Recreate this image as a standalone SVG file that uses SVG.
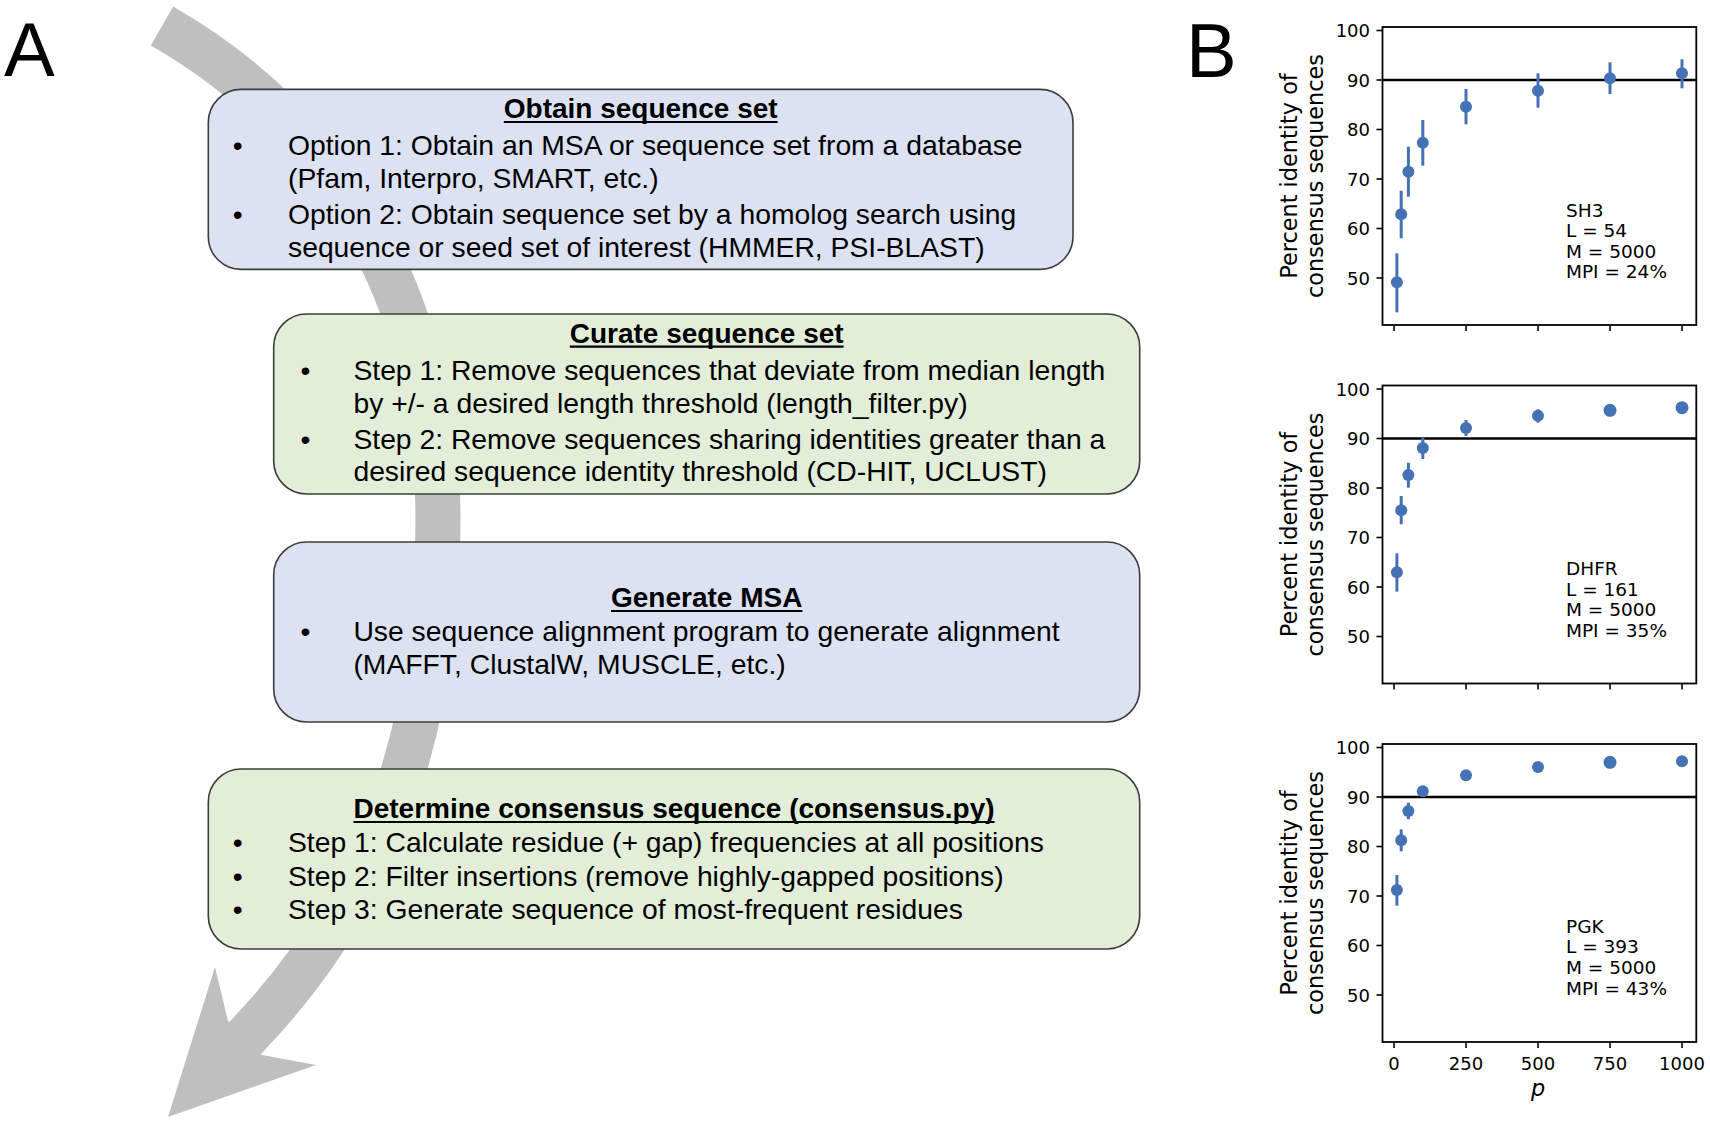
<svg xmlns="http://www.w3.org/2000/svg" width="1710" height="1123" viewBox="0 0 1710 1123">
<style>
.box{stroke:#3c3c3c;stroke-width:1.6}
.blue{fill:#dce2f2}
.green{fill:#e3eed9}
.t{font-family:"Liberation Sans",Arial,sans-serif;font-size:28.3px;fill:#000}
.tt{font-family:"Liberation Sans",Arial,sans-serif;font-size:28px;font-weight:bold;fill:#000;text-anchor:middle}
.bul{text-anchor:middle}
.ul{stroke:#000;stroke-width:2.2}
.pl{font-family:"Liberation Sans",Arial,sans-serif;font-size:76px;fill:#000}
.frame{fill:none;stroke:#000;stroke-width:1.8}
.h90{stroke:#000;stroke-width:2.6}
.tick{stroke:#000;stroke-width:1.6}
.tl{font-family:"DejaVu Sans",sans-serif;font-size:18px;fill:#000;text-anchor:end}
.xl{font-family:"DejaVu Sans",sans-serif;font-size:18px;fill:#000;text-anchor:middle}
.ann{font-family:"DejaVu Sans",sans-serif;font-size:18.5px;fill:#000}
.yl{font-family:"DejaVu Sans",sans-serif;font-size:22.4px;fill:#000;text-anchor:middle}
.err{stroke:#4472b4;stroke-width:3}
.dot{fill:#4472b4}
</style>

<g id="connectors">
  <path d="M162,26 C335.4,125.6 438,300 438,520 C438,720 384.6,894.8 242.9,1040.2" fill="none" stroke="#bfbfbf" stroke-width="45"/>
  <polygon points="215,967 168,1117 316,1065 262,1055 245,1038 228,1021" fill="#bfbfbf"/>
</g>

<text class="pl" x="4" y="76">A</text>
<text class="pl" x="1186" y="77">B</text>

<g id="node-obtain">
  <rect class="box blue" x="208.3" y="89.4" width="864.7" height="180" rx="33"/>
  <text class="tt" x="640.7" y="118">Obtain sequence set</text>
  <line class="ul" x1="503.8" y1="122" x2="777.6" y2="122"/>
  <text class="t bul" x="237.7" y="155">•</text>
  <text class="t" x="288" y="155">Option 1: Obtain an MSA or sequence set from a database</text>
  <text class="t" x="288" y="188">(Pfam, Interpro, SMART, etc.)</text>
  <text class="t bul" x="237.7" y="224">•</text>
  <text class="t" x="288" y="224">Option 2: Obtain sequence set by a homolog search using</text>
  <text class="t" x="288" y="256.6">sequence or seed set of interest (HMMER, PSI-BLAST)</text>
</g>

<g id="node-curate">
  <rect class="box green" x="273.7" y="314" width="866" height="180" rx="33"/>
  <text class="tt" x="706.7" y="342.6">Curate sequence set</text>
  <line class="ul" x1="569.8" y1="346.6" x2="843.6" y2="346.6"/>
  <text class="t bul" x="305.4" y="379.6">•</text>
  <text class="t" x="353.4" y="379.6">Step 1: Remove sequences that deviate from median length</text>
  <text class="t" x="353.4" y="412.6">by +/- a desired length threshold (length_filter.py)</text>
  <text class="t bul" x="305.4" y="448.6">•</text>
  <text class="t" x="353.4" y="448.6">Step 2: Remove sequences sharing identities greater than a</text>
  <text class="t" x="353.4" y="481.2">desired sequence identity threshold (CD-HIT, UCLUST)</text>
</g>

<g id="node-msa">
  <rect class="box blue" x="273.7" y="542" width="866" height="180" rx="33"/>
  <text class="tt" x="706.7" y="607">Generate MSA</text>
  <line class="ul" x1="611" y1="611" x2="802.4" y2="611"/>
  <text class="t bul" x="305.4" y="641">•</text>
  <text class="t" x="353.4" y="641">Use sequence alignment program to generate alignment</text>
  <text class="t" x="353.4" y="674">(MAFFT, ClustalW, MUSCLE, etc.)</text>
</g>

<g id="node-consensus">
  <rect class="box green" x="208.3" y="769" width="931.4" height="180" rx="33"/>
  <text class="tt" x="674" y="818">Determine consensus sequence (consensus.py)</text>
  <line class="ul" x1="353.5" y1="822" x2="994.5" y2="822"/>
  <text class="t bul" x="237.7" y="852">•</text>
  <text class="t" x="288" y="852">Step 1: Calculate residue (+ gap) frequencies at all positions</text>
  <text class="t bul" x="237.7" y="885.5">•</text>
  <text class="t" x="288" y="885.5">Step 2: Filter insertions (remove highly-gapped positions)</text>
  <text class="t bul" x="237.7" y="919">•</text>
  <text class="t" x="288" y="919">Step 3: Generate sequence of most-frequent residues</text>
</g>

<!-- Plot 1 -->
<g id="plot-sh3">
  <line class="h90" x1="1382.5" y1="80" x2="1696.3" y2="80"/>
  <g class="tick">
    <line x1="1376.5" y1="30.5" x2="1382.5" y2="30.5"/><line x1="1376.5" y1="80" x2="1382.5" y2="80"/>
    <line x1="1376.5" y1="129.5" x2="1382.5" y2="129.5"/><line x1="1376.5" y1="179" x2="1382.5" y2="179"/>
    <line x1="1376.5" y1="228.5" x2="1382.5" y2="228.5"/><line x1="1376.5" y1="278" x2="1382.5" y2="278"/>
    <line x1="1394" y1="325" x2="1394" y2="331"/><line x1="1466" y1="325" x2="1466" y2="331"/>
    <line x1="1538" y1="325" x2="1538" y2="331"/><line x1="1610" y1="325" x2="1610" y2="331"/>
    <line x1="1682" y1="325" x2="1682" y2="331"/>
  </g>
  <text class="tl" x="1370" y="37">100</text><text class="tl" x="1370" y="86.5">90</text>
  <text class="tl" x="1370" y="136">80</text><text class="tl" x="1370" y="185.5">70</text>
  <text class="tl" x="1370" y="235">60</text><text class="tl" x="1370" y="284.5">50</text>
  <text class="yl" transform="translate(1297,176) rotate(-90)">Percent identity of</text>
  <text class="yl" transform="translate(1322.5,176) rotate(-90)">consensus sequences</text>
  <g class="err">
    <line x1="1396.9" y1="253.3" x2="1396.9" y2="312.3"/><line x1="1401.2" y1="190.7" x2="1401.2" y2="238.3"/>
    <line x1="1408.4" y1="146.7" x2="1408.4" y2="196.7"/><line x1="1422.8" y1="120" x2="1422.8" y2="165.7"/>
    <line x1="1466" y1="89" x2="1466" y2="124.3"/><line x1="1538" y1="73.3" x2="1538" y2="107.7"/>
    <line x1="1610" y1="62.3" x2="1610" y2="94"/><line x1="1682" y1="59.3" x2="1682" y2="88.3"/>
  </g>
  <g class="dot">
    <circle cx="1396.9" cy="282.3" r="6"/><circle cx="1401.2" cy="214.3" r="6"/>
    <circle cx="1408.4" cy="171.7" r="6"/><circle cx="1422.8" cy="142.7" r="6"/>
    <circle cx="1466" cy="106.7" r="6"/><circle cx="1538" cy="90.7" r="6"/>
    <circle cx="1610" cy="78.3" r="6"/><circle cx="1682" cy="73.3" r="6"/>
  </g>
  <text class="ann" x="1566" y="216.7">SH3</text>
  <text class="ann" x="1566" y="237.3">L = 54</text>
  <text class="ann" x="1566" y="257.7">M = 5000</text>
  <text class="ann" x="1566" y="278.3">MPI = 24%</text>
  <rect class="frame" x="1382.5" y="27" width="313.8" height="298"/>
</g>

<!-- Plot 2 -->
<g id="plot-dhfr">
  <line class="h90" x1="1382.5" y1="438.5" x2="1696.3" y2="438.5"/>
  <g class="tick">
    <line x1="1376.5" y1="389" x2="1382.5" y2="389"/><line x1="1376.5" y1="438.5" x2="1382.5" y2="438.5"/>
    <line x1="1376.5" y1="488" x2="1382.5" y2="488"/><line x1="1376.5" y1="537.5" x2="1382.5" y2="537.5"/>
    <line x1="1376.5" y1="587" x2="1382.5" y2="587"/><line x1="1376.5" y1="636.5" x2="1382.5" y2="636.5"/>
    <line x1="1394" y1="683.5" x2="1394" y2="689.5"/><line x1="1466" y1="683.5" x2="1466" y2="689.5"/>
    <line x1="1538" y1="683.5" x2="1538" y2="689.5"/><line x1="1610" y1="683.5" x2="1610" y2="689.5"/>
    <line x1="1682" y1="683.5" x2="1682" y2="689.5"/>
  </g>
  <text class="tl" x="1370" y="395.5">100</text><text class="tl" x="1370" y="445">90</text>
  <text class="tl" x="1370" y="494.5">80</text><text class="tl" x="1370" y="544">70</text>
  <text class="tl" x="1370" y="593.5">60</text><text class="tl" x="1370" y="643">50</text>
  <text class="yl" transform="translate(1297,534.5) rotate(-90)">Percent identity of</text>
  <text class="yl" transform="translate(1322.5,534.5) rotate(-90)">consensus sequences</text>
  <g class="err">
    <line x1="1396.9" y1="553.3" x2="1396.9" y2="591.7"/><line x1="1401.2" y1="496" x2="1401.2" y2="524.3"/>
    <line x1="1408.4" y1="462.7" x2="1408.4" y2="487.7"/><line x1="1422.8" y1="437.7" x2="1422.8" y2="459"/>
    <line x1="1466" y1="420" x2="1466" y2="436"/><line x1="1538" y1="409.3" x2="1538" y2="422.7"/>
    <line x1="1610" y1="407.7" x2="1610" y2="413.3"/>
  </g>
  <g class="dot">
    <circle cx="1396.9" cy="572.3" r="6"/><circle cx="1401.2" cy="510.3" r="6"/>
    <circle cx="1408.4" cy="475" r="6"/><circle cx="1422.8" cy="448" r="6"/>
    <circle cx="1466" cy="428" r="6"/><circle cx="1538" cy="415.7" r="6"/>
    <circle cx="1610" cy="410.3" r="6.5"/><circle cx="1682" cy="407.7" r="6.5"/>
  </g>
  <text class="ann" x="1566" y="575">DHFR</text>
  <text class="ann" x="1566" y="595.7">L = 161</text>
  <text class="ann" x="1566" y="616">M = 5000</text>
  <text class="ann" x="1566" y="636.7">MPI = 35%</text>
  <rect class="frame" x="1382.5" y="385.5" width="313.8" height="298"/>
</g>

<!-- Plot 3 -->
<g id="plot-pgk">
  <line class="h90" x1="1382.5" y1="797" x2="1696.3" y2="797"/>
  <g class="tick">
    <line x1="1376.5" y1="747.5" x2="1382.5" y2="747.5"/><line x1="1376.5" y1="797" x2="1382.5" y2="797"/>
    <line x1="1376.5" y1="846.5" x2="1382.5" y2="846.5"/><line x1="1376.5" y1="896" x2="1382.5" y2="896"/>
    <line x1="1376.5" y1="945.5" x2="1382.5" y2="945.5"/><line x1="1376.5" y1="995" x2="1382.5" y2="995"/>
    <line x1="1394" y1="1042" x2="1394" y2="1048"/><line x1="1466" y1="1042" x2="1466" y2="1048"/>
    <line x1="1538" y1="1042" x2="1538" y2="1048"/><line x1="1610" y1="1042" x2="1610" y2="1048"/>
    <line x1="1682" y1="1042" x2="1682" y2="1048"/>
  </g>
  <text class="tl" x="1370" y="754">100</text><text class="tl" x="1370" y="803.5">90</text>
  <text class="tl" x="1370" y="853">80</text><text class="tl" x="1370" y="902.5">70</text>
  <text class="tl" x="1370" y="952">60</text><text class="tl" x="1370" y="1001.5">50</text>
  <text class="xl" x="1394" y="1070">0</text><text class="xl" x="1466" y="1070">250</text>
  <text class="xl" x="1538" y="1070">500</text><text class="xl" x="1610" y="1070">750</text>
  <text class="xl" x="1682" y="1070">1000</text>
  <text class="yl" x="1538" y="1095.5" font-style="italic">p</text>
  <text class="yl" transform="translate(1297,893) rotate(-90)">Percent identity of</text>
  <text class="yl" transform="translate(1322.5,893) rotate(-90)">consensus sequences</text>
  <g class="err">
    <line x1="1396.9" y1="875" x2="1396.9" y2="905.7"/><line x1="1401.2" y1="829.3" x2="1401.2" y2="851.3"/>
    <line x1="1408.4" y1="802.7" x2="1408.4" y2="819.3"/><line x1="1422.8" y1="786" x2="1422.8" y2="796.7"/>
    <line x1="1466" y1="773" x2="1466" y2="778"/>
  </g>
  <g class="dot">
    <circle cx="1396.9" cy="890" r="6"/><circle cx="1401.2" cy="840.3" r="6"/>
    <circle cx="1408.4" cy="811" r="6"/><circle cx="1422.8" cy="791.3" r="6"/>
    <circle cx="1466" cy="775.3" r="6"/><circle cx="1538" cy="767" r="6"/>
    <circle cx="1610" cy="762.3" r="6.5"/><circle cx="1682" cy="761.3" r="6"/>
  </g>
  <text class="ann" x="1566" y="932.7">PGK</text>
  <text class="ann" x="1566" y="953.3">L = 393</text>
  <text class="ann" x="1566" y="974">M = 5000</text>
  <text class="ann" x="1566" y="995">MPI = 43%</text>
  <rect class="frame" x="1382.5" y="744" width="313.8" height="298"/>
</g>
</svg>
